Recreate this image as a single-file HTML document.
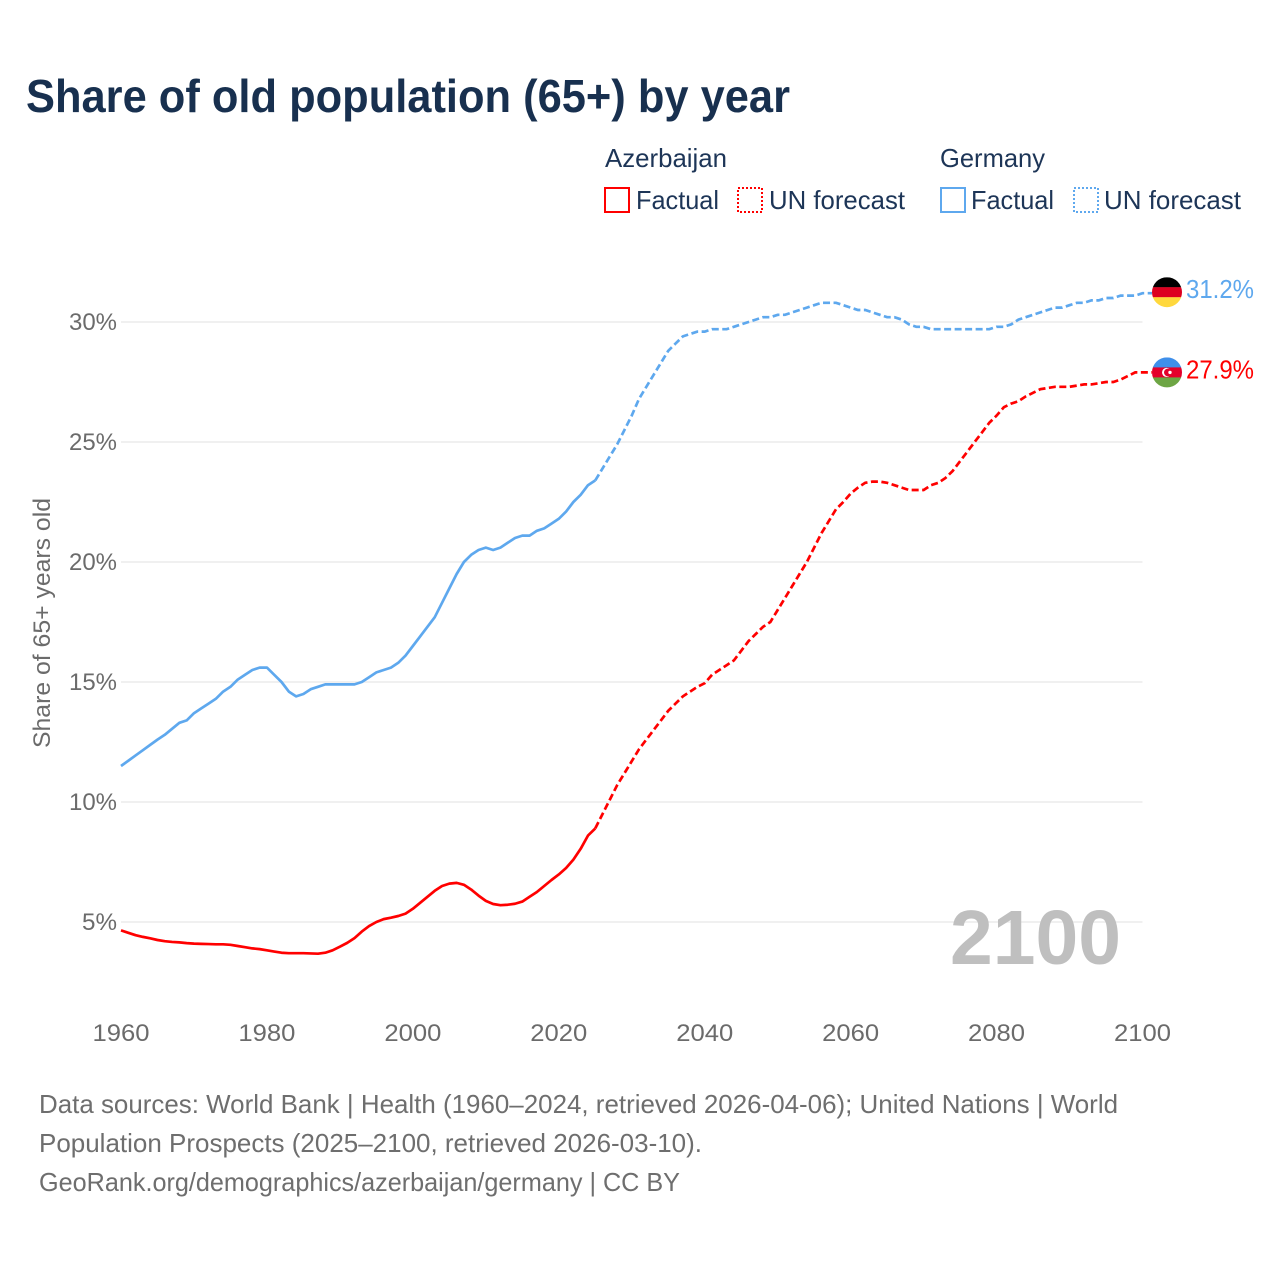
<!DOCTYPE html>
<html lang="en">
<head>
<meta charset="utf-8">
<title>Share of old population (65+) by year</title>
<style>
html,body{margin:0;padding:0;background:#fff}
svg{display:block;font-family:"Liberation Sans",sans-serif}
</style>
</head>
<body>
<svg id="chart" width="1280" height="1280" viewBox="0 0 1280 1280" xmlns="http://www.w3.org/2000/svg">
  <defs>
    <clipPath id="flag-clip-de"><circle id="clip-de" cx="1167" cy="292" r="15"></circle></clipPath>
    <clipPath id="flag-clip-az"><circle id="clip-az" cx="1167" cy="372" r="15"></circle></clipPath>
  </defs>
  <text x="26" y="112" font-size="46" font-weight="700" fill="#18304f" textLength="764" lengthAdjust="spacingAndGlyphs">Share of old population (65+) by year</text>

  <g font-size="26" fill="#1d3557">
    <text x="605" y="167" textLength="122" lengthAdjust="spacingAndGlyphs">Azerbaijan</text>
    <rect x="605" y="188" width="24" height="24" fill="none" stroke="#ff0000" stroke-width="2"></rect>
    <text x="636" y="209" textLength="83" lengthAdjust="spacingAndGlyphs">Factual</text>
    <rect x="738" y="188" width="24" height="24" fill="none" stroke="#ff0000" stroke-width="2" stroke-dasharray="2 2"></rect>
    <text x="769" y="209" textLength="136" lengthAdjust="spacingAndGlyphs">UN forecast</text>
    <text x="940" y="167" textLength="105" lengthAdjust="spacingAndGlyphs">Germany</text>
    <rect x="941" y="188" width="24" height="24" fill="none" stroke="#5ea8ee" stroke-width="2"></rect>
    <text x="971" y="209" textLength="83" lengthAdjust="spacingAndGlyphs">Factual</text>
    <rect x="1074" y="188" width="24" height="24" fill="none" stroke="#5ea8ee" stroke-width="2" stroke-dasharray="2 2"></rect>
    <text x="1104" y="209" textLength="137" lengthAdjust="spacingAndGlyphs">UN forecast</text>
  </g>

  <g id="grid"></g>
  <g id="y-ticks"></g>
  <g id="x-ticks"></g>

  <text transform="translate(50 748) rotate(-90)" font-size="24" fill="#6b6b6b" textLength="250" lengthAdjust="spacingAndGlyphs">Share of 65+ years old</text>

  <text x="950" y="964" font-size="77" font-weight="700" fill="#bfbfbf" textLength="171" lengthAdjust="spacingAndGlyphs">2100</text>

  <g id="series"></g>

  <g id="flag-de" clip-path="url(#flag-clip-de)"></g>
  <g id="flag-az" clip-path="url(#flag-clip-az)"></g>
  <g id="end-labels"></g>

  <g font-size="26" fill="#6e6e6e">
    <text x="39" y="1113" textLength="1079" lengthAdjust="spacingAndGlyphs">Data sources: World Bank | Health (1960–2024, retrieved 2026-04-06); United Nations | World</text>
    <text x="39" y="1152" textLength="663" lengthAdjust="spacingAndGlyphs">Population Prospects (2025–2100, retrieved 2026-03-10).</text>
    <text x="39" y="1191" textLength="641" lengthAdjust="spacingAndGlyphs">GeoRank.org/demographics/azerbaijan/germany | CC BY</text>
  </g>
</svg>
<script>
const firstYear = 1960;
const lastFactualYear = 2025;
const xTickYears = [1960, 1980, 2000, 2020, 2040, 2060, 2080, 2100];
const yTickValues = [5, 10, 15, 20, 25, 30];
const germanyValues = [
  11.5,11.72,11.94,12.16,12.38,12.6,12.8,13.05,13.3,13.4,
  13.7,13.9,14.1,14.3,14.6,14.8,15.1,15.3,15.5,15.6,
  15.6,15.3,15.0,14.6,14.4,14.5,14.7,14.8,14.9,14.9,
  14.9,14.9,14.9,15.0,15.2,15.4,15.5,15.6,15.8,16.1,
  16.5,16.9,17.3,17.7,18.3,18.9,19.5,20.0,20.3,20.5,
  20.6,20.5,20.6,20.8,21.0,21.1,21.1,21.3,21.4,21.6,
  21.8,22.1,22.5,22.8,23.2,23.4,
  23.9,24.4,24.9,25.5,26.1,26.8,27.3,27.8,28.3,28.8,
  29.1,29.4,29.5,29.6,29.6,29.7,29.7,29.7,29.8,29.9,
  30.0,30.1,30.2,30.2,30.3,30.3,30.4,30.5,30.6,30.7,
  30.8,30.8,30.8,30.7,30.6,30.5,30.5,30.4,30.3,30.2,
  30.2,30.1,29.9,29.8,29.8,29.7,29.7,29.7,29.7,29.7,
  29.7,29.7,29.7,29.7,29.8,29.8,29.9,30.1,30.2,30.3,
  30.4,30.5,30.6,30.6,30.7,30.8,30.8,30.9,30.9,31.0,
  31.0,31.1,31.1,31.1,31.2
];
const azerbaijanValues = [
  4.65,4.55,4.45,4.38,4.32,4.25,4.2,4.17,4.15,4.12,
  4.1,4.09,4.08,4.07,4.07,4.05,4.0,3.95,3.9,3.87,
  3.82,3.77,3.72,3.7,3.7,3.7,3.69,3.68,3.72,3.82,
  3.97,4.13,4.33,4.6,4.83,5.0,5.12,5.18,5.25,5.35,
  5.55,5.8,6.05,6.3,6.5,6.6,6.63,6.55,6.35,6.1,
  5.88,5.75,5.7,5.72,5.76,5.85,6.05,6.25,6.5,6.75,
  6.98,7.25,7.6,8.05,8.6,8.9,
  9.5,10.1,10.7,11.2,11.7,12.2,12.6,13.0,13.4,13.8,
  14.1,14.4,14.6,14.8,14.95,15.3,15.5,15.7,15.9,16.3,
  16.7,17.0,17.3,17.5,18.0,18.5,19.0,19.5,20.0,20.6,
  21.2,21.7,22.2,22.5,22.85,23.1,23.3,23.35,23.35,23.3,
  23.2,23.1,23.0,23.0,23.0,23.2,23.3,23.5,23.8,24.2,
  24.6,25.0,25.4,25.8,26.1,26.45,26.6,26.7,26.9,27.05,
  27.2,27.25,27.3,27.3,27.3,27.35,27.4,27.4,27.45,27.5,
  27.5,27.6,27.75,27.9,27.9
];

const NS = 'http://www.w3.org/2000/svg';
const xScale = year => 121 + (year - 1960) * (1021.5 / 140);
const yScale = value => 1042 - value * 24;

function make(tag, parent, props) {
  const el = document.createElementNS(NS, tag);
  for (const k in props) el.setAttribute(k, props[k]);
  parent.appendChild(el);
  return el;
}
function pathFor(values, from, to) {
  let d = '';
  for (let i = from; i <= to; i++) {
    d += (d ? 'L' : 'M') + xScale(firstYear + i).toFixed(2) + ' ' + yScale(values[i]).toFixed(2);
  }
  return d;
}

const grid = document.getElementById('grid');
const yTicks = document.getElementById('y-ticks');
yTickValues.forEach(v => {
  const line = make('line', grid, {x1: xScale(1960), x2: xScale(2100), y1: yScale(v), y2: yScale(v), stroke: '#ececec', 'stroke-width': 1.5});
  
  
  const label = make('text', yTicks, {x: 117, y: yScale(v) + 8, 'text-anchor': 'end', 'font-size': 24, fill: '#6b6b6b', textLength: v < 10 ? 35 : 48, lengthAdjust: 'spacingAndGlyphs'});
  
  
  label.textContent = v + '%';
});

const xTicks = document.getElementById('x-ticks');
xTickYears.forEach(y => {
  const label = make('text', xTicks, {x: xScale(y), y: 1041, 'text-anchor': 'middle', 'font-size': 24, fill: '#6b6b6b', textLength: 57, lengthAdjust: 'spacingAndGlyphs'});
  
  
  label.textContent = String(y);
});

const seriesG = document.getElementById('series');
const splitIndex = lastFactualYear - firstYear;
[[germanyValues, '#5ea8ee', 'germany'], [azerbaijanValues, '#ff0000', 'azerbaijan']].forEach(s => {
  const vals = s[0], color = s[1], name = s[2];
  const n = vals.length - 1;
  const factual = make('path', seriesG, {d: pathFor(vals, 0, splitIndex), fill: 'none', stroke: color, 'stroke-width': 2.7, 'stroke-linejoin': 'round'});
  
  
  const forecast = make('path', seriesG, {d: pathFor(vals, splitIndex, n) + 'L1152 ' + yScale(vals[n]).toFixed(2), fill: 'none', stroke: color, 'stroke-width': 2.7, 'stroke-dasharray': '7 3.5'});
  
  
});

function drawFlag(groupId, clipId, value, bands) {
  const cy = yScale(value) - (groupId === 'flag-de' ? 1 : 0);
  document.getElementById(clipId).setAttribute('cy', cy);
  const g = document.getElementById(groupId);
  bands.forEach((c, i) => {
    make('rect', g, {x: 1152, y: cy - 15 + i * 10, width: 30, height: 10.2, fill: c});
  });
  return cy;
}
drawFlag('flag-de', 'clip-de', germanyValues[germanyValues.length - 1], ['#000000', '#dd0020', '#ffd83d']);
const azY = drawFlag('flag-az', 'clip-az', azerbaijanValues[azerbaijanValues.length - 1], ['#3f8fea', '#e4002b', '#6da544']);
const azG = document.getElementById('flag-az');
make('circle', azG, {cx: 1166.5, cy: azY, r: 4.5, fill: '#ffffff'});
make('circle', azG, {cx: 1167.8, cy: azY, r: 3.8, fill: '#e4002b'});
make('circle', azG, {cx: 1170, cy: azY, r: 1.7, fill: '#ffffff'});

const endLabels = document.getElementById('end-labels');
[[germanyValues, '#5ea8ee', 'germany-end-label', 5], [azerbaijanValues, '#ff0000', 'azerbaijan-end-label', 6]].forEach(s => {
  const v = s[0][s[0].length - 1];
  const t = make('text', endLabels, {x: 1186, y: yScale(v) + s[3], 'font-size': 26, fill: s[1], textLength: 68, lengthAdjust: 'spacingAndGlyphs'});
  
  
  t.textContent = v.toFixed(1) + '%';
});
</script>
</body>
</html>
